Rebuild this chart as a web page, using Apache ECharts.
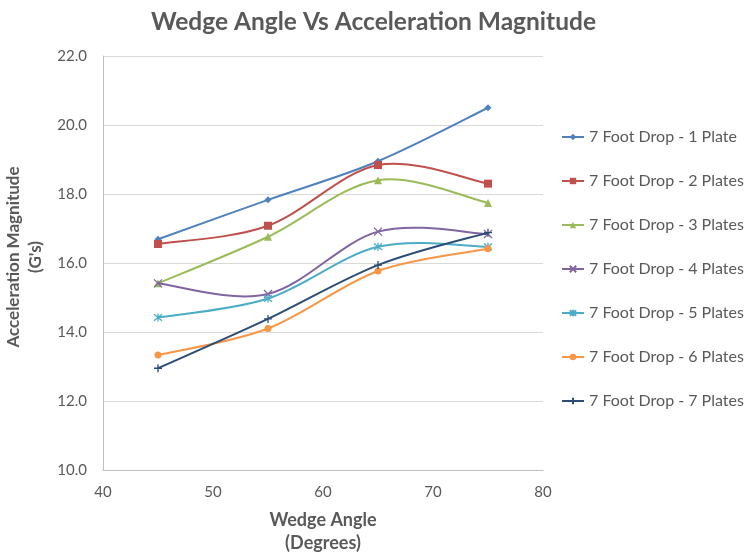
<!DOCTYPE html>
<html>
<head>
<meta charset="utf-8">
<script src="https://cdn.jsdelivr.net/npm/echarts@6/dist/echarts.min.js"></script>
<style>html,body{margin:0;padding:0;background:#fff;}#c{width:747px;height:554px;}</style>
</head>
<body>
<div id="c"></div>
<script>
const wedgeAngles = [45, 55, 65, 75];
const seriesNames = [
  "7 Foot Drop - 1 Plate",
  "7 Foot Drop - 2 Plates",
  "7 Foot Drop - 3 Plates",
  "7 Foot Drop - 4 Plates",
  "7 Foot Drop - 5 Plates",
  "7 Foot Drop - 6 Plates",
  "7 Foot Drop - 7 Plates"
];
const plate1 = [16.69, 17.83, 18.95, 20.50];
const plate2 = [16.55, 17.08, 18.84, 18.30];
const plate3 = [15.41, 16.76, 18.40, 17.74];
const plate4 = [15.41, 15.10, 16.91, 16.84];
const plate5 = [14.42, 14.97, 16.47, 16.47];
const plate6 = [13.33, 14.10, 15.77, 16.41];
const plate7 = [12.95, 14.38, 15.94, 16.88];
const yTicks = [10, 12, 14, 16, 18, 20, 22];
const xTicks = [40, 50, 60, 70, 80];

const allValues = [plate1, plate2, plate3, plate4, plate5, plate6, plate7];
const colors = ['#4F81BD', '#C0504D', '#9BBB59', '#8064A2', '#4BACC6', '#F79646', '#2C4D75'];
const symbols = [
  'diamond', 'rect', 'triangle',
  'path://M0,0 L10,10 M10,0 L0,10',
  'path://M0,0 L10,10 M10,0 L0,10 M5,-1 L5,11',
  'circle',
  'path://M0,5 L10,5 M5,0 L5,10'
];
const symbolSizes = [7, 8, 8, 8, 8, 7, 8];
const strokeSym = [false, false, false, true, true, false, true];

// Smooth curve segments (Catmull-Rom style, like Excel's smoothed lines),
// positioned through the chart's own coordinate system via api.coord.
function makeRenderItem(k) {
  return function (params, api) {
    const vals = allValues[k];
    const n = vals.length;
    const i = params.dataIndex;
    if (i >= n - 1) return null;
    const P = vals.map((v, j) => api.coord([wedgeAngles[j], v]));
    const p0 = P[Math.max(i - 1, 0)], p1 = P[i], p2 = P[i + 1], p3 = P[Math.min(i + 2, n - 1)];
    const t = 1 / 6;
    const c1 = [p1[0] + (p2[0] - p0[0]) * t, p1[1] + (p2[1] - p0[1]) * t];
    const c2 = [p2[0] - (p3[0] - p1[0]) * t, p2[1] - (p3[1] - p1[1]) * t];
    return {
      type: 'path',
      shape: { pathData: `M${p1[0]},${p1[1]} C${c1[0]},${c1[1]} ${c2[0]},${c2[1]} ${p2[0]},${p2[1]}` },
      style: { fill: 'none', stroke: colors[k], lineWidth: 2 }
    };
  };
}

const series = [];
allValues.forEach((vals, i) => {
  const pts = vals.map((v, j) => [wedgeAngles[j], v]);
  series.push({
    name: seriesNames[i] + ' curve',
    type: 'custom',
    data: pts,
    encode: { x: 0, y: 1 },
    renderItem: makeRenderItem(i),
    silent: true,
    z: 2 + 2 * i
  });
  series.push({
    name: seriesNames[i],
    type: 'line',
    data: pts,
    symbol: symbols[i],
    symbolSize: symbolSizes[i],
    showAllSymbol: true,
    lineStyle: { color: colors[i], width: 2, opacity: 0 },
    itemStyle: strokeSym[i]
      ? { color: colors[i], borderColor: colors[i], borderWidth: 1.3 }
      : { color: colors[i], borderWidth: 0 },
    emphasis: { disabled: true },
    z: 3 + 2 * i
  });
});

const chart = echarts.init(document.getElementById('c'), null, { renderer: 'canvas' });
chart.setOption({
  animation: false,
  backgroundColor: '#fff',
  textStyle: { fontFamily: 'Lato, "Open Sans", sans-serif' },
  title: {
    text: 'Wedge Angle Vs Acceleration Magnitude',
    left: 'center',
    top: 10,
    padding: 0,
    textStyle: { fontFamily: 'Lato', fontSize: 24.5, fontWeight: 'bold', color: '#595959' }
  },
  grid: { left: 103, right: 204, top: 56, bottom: 84, containLabel: false, outerBoundsMode: 'none' },
  legend: {
    orient: 'vertical',
    left: 561,
    top: 129,
    padding: 0,
    itemGap: 28,
    itemWidth: 22,
    itemHeight: 8,
    data: seriesNames.map((nm, i) => ({
      name: nm,
      lineStyle: { color: colors[i], width: 2, opacity: 1 }
    })),
    textStyle: { fontFamily: 'Lato', fontSize: 16, color: '#595959' }
  },
  xAxis: {
    type: 'value',
    min: xTicks[0],
    max: xTicks[xTicks.length - 1],
    interval: 10,
    name: 'Wedge Angle\n(Degrees)',
    nameLocation: 'middle',
    nameGap: 39,
    nameTextStyle: { fontFamily: 'Lato', fontSize: 18, fontWeight: 'bold', color: '#595959', lineHeight: 23 },
    axisLine: { show: true, lineStyle: { color: '#BFBFBF', width: 1 } },
    axisTick: { show: false },
    splitLine: { show: false },
    axisLabel: { fontFamily: 'Lato', fontSize: 15, color: '#595959', margin: 15 }
  },
  yAxis: {
    type: 'value',
    min: yTicks[0],
    max: yTicks[yTicks.length - 1],
    interval: 2,
    name: "Acceleration Magnitude\n(G's)",
    nameLocation: 'middle',
    nameGap: 51,
    nameTextStyle: { fontFamily: 'Lato', fontSize: 17, fontWeight: 'bold', color: '#595959', lineHeight: 22, padding: [0, 0, 0, 12] },
    axisLine: { show: true, lineStyle: { color: '#BFBFBF', width: 1 } },
    axisTick: { show: false },
    splitLine: { show: true, lineStyle: { color: '#D9D9D9', width: 1 } },
    axisLabel: { fontFamily: 'Lato', fontSize: 15, color: '#595959', margin: 16, formatter: v => v.toFixed(1) }
  },
  series: series
});
</script>
</body>
</html>
